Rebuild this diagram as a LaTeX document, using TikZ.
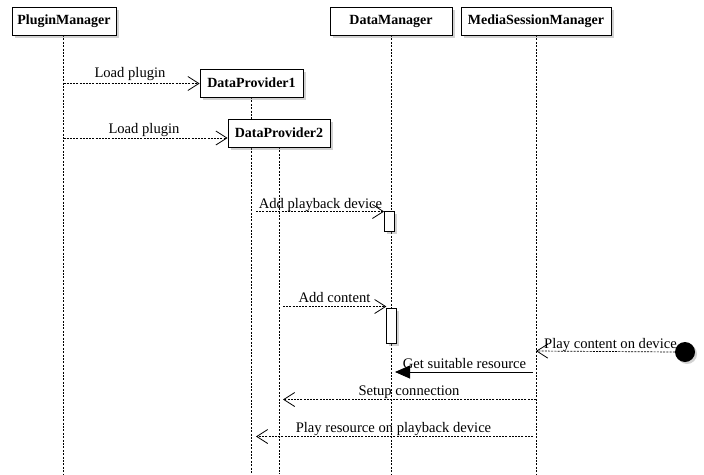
\documentclass[tikz,border=0pt]{standalone}
\usepackage{fontspec}
\setmainfont{Liberation Serif}
\usetikzlibrary{arrows.meta,shadows}
\begin{document}
\begin{tikzpicture}[x=1pt,y=-1pt,
  lifebox/.style={draw=black,line width=0.8pt,fill=white,inner sep=0pt,
    minimum height=28pt,font=\fontsize{14}{16}\selectfont\bfseries,
    drop shadow={shadow xshift=2.5pt,shadow yshift=-2.5pt,opacity=0.35}},
  lifeline/.style={line width=0.6pt,dash pattern=on 2pt off 1.4pt},
  actbox/.style={draw=black,line width=0.8pt,fill=white,
    drop shadow={shadow xshift=2.5pt,shadow yshift=-2.5pt,opacity=0.35}},
  msg/.style={line width=0.7pt,dash pattern=on 2pt off 1.2pt,
    -{Straight Barb[length=11pt,width=14pt,line width=0.8pt]}},
  call/.style={line width=0.9pt,-{Triangle[length=15pt,width=13pt]}},
  lbl/.style={anchor=base,inner sep=0pt,font=\fontsize{14.6}{16}\selectfont}]

\useasboundingbox (0,0) rectangle (704,474);
\fill[white] (0,0) rectangle (704,474);

% lifelines
\draw[lifeline] (63.5,35) -- (63.5,474);
\draw[lifeline] (391,35) -- (391,474);
\draw[lifeline] (536,35) -- (536,474);
\draw[lifeline] (251.5,97) -- (251.5,474);
\draw[lifeline] (279,147) -- (279,474);

% participants
\node[lifebox,minimum width=104pt] (pm) at (64,21) {PluginManager};
\node[lifebox,minimum width=122pt] (dm) at (391,21) {DataManager};
\node[lifebox,minimum width=150pt] (msm) at (536,21) {MediaSessionManager};
\node[lifebox,minimum width=103pt] (dp1) at (251.5,83) {DataProvider1};
\node[lifebox,minimum width=102pt] (dp2) at (279,133) {DataProvider2};

% activation bars on DataManager
\node[actbox,minimum width=10pt,minimum height=20pt,inner sep=0pt] (act1) at (389.5,221) {};
\node[actbox,minimum width=9.5pt,minimum height=35pt,inner sep=0pt] (act2) at (391.5,325.5) {};

% external trigger
\node[circle,fill=black,minimum size=20pt,inner sep=0pt,
  drop shadow={shadow xshift=2pt,shadow yshift=-2pt,opacity=0.35}] (start) at (685,352) {};

% message end points
\coordinate (l1a) at (63.5,83.5);   \coordinate (l1b) at (dp1.west |- l1a);
\coordinate (l2a) at (63.5,138);    \coordinate (l2b) at (dp2.west |- l2a);
\coordinate (apd) at (256,211.5);   \coordinate (apdEnd) at (act1.west |- apd);
\coordinate (ac) at (283,306.5);    \coordinate (acEnd) at (act2.west |- ac);
\coordinate (pcd) at (536,351);
\coordinate (gsr) at (533,372);     \coordinate (gsrEnd) at (395,372);
\coordinate (sc) at (536,399.5);    \coordinate (scEnd) at (283,399.5);
\coordinate (prp) at (533,436.5);   \coordinate (prpEnd) at (256,436.5);

% messages
\draw[msg] (l1a) -- (l1b);
\node[lbl] (t1) at (130,77) {Load plugin};
\draw[msg] (l2a) -- (l2b);
\node[lbl] (t2) at (144,133) {Load plugin};
\draw[msg] (apd) -- (apdEnd);
\node[lbl] (t3) at (320.5,208) {Add playback device};
\draw[msg] (ac) -- (acEnd);
\node[lbl] (t4) at (334.5,302) {Add content};
\draw[msg] (start.west) -- (pcd);
\node[lbl] (t5) at (610.5,348) {Play content on device};
\draw[call] (gsr) -- (gsrEnd);
\node[lbl] (t6) at (464.5,368) {Get suitable resource};
\draw[msg] (sc) -- (scEnd);
\node[lbl] (t7) at (409,395.5) {Setup connection};
\draw[msg] (prp) -- (prpEnd);
\node[lbl] (t8) at (393.5,432.5) {Play resource on playback device};
\end{tikzpicture}
\end{document}
